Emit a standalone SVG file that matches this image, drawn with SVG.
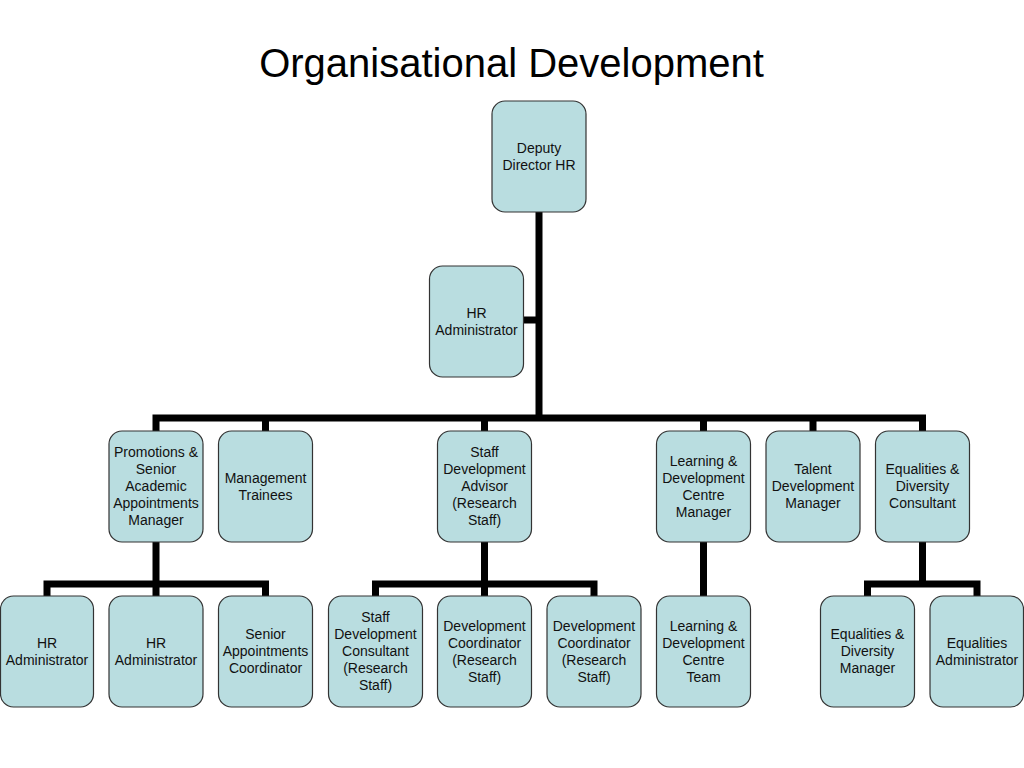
<svg xmlns="http://www.w3.org/2000/svg" width="1024" height="768" viewBox="0 0 1024 768">
<style>
.box{fill:#B9DDE0;stroke:#333;stroke-width:1.2}
.lbl{font-family:"Liberation Sans",Arial,sans-serif;font-size:14px;fill:#111;text-anchor:middle}
.title{font-family:"Liberation Sans",Arial,sans-serif;font-size:40px;fill:#000;text-anchor:middle}
.con{fill:none;stroke:#000;stroke-width:7;stroke-linejoin:miter;stroke-linecap:butt}
</style>
<rect width="1024" height="768" fill="#fff"/>
<text class="title" x="511.5" y="77">Organisational Development</text>
<g id="connectors">
<path class="con" d="M539,212 V421"/>
<path class="con" d="M524,320 H539"/>
<path class="con" d="M156,431 V418 H922.5 V431"/>
<path class="con" d="M265.5,418 V431 M484.5,418 V431 M703.5,418 V431 M813,418 V431"/>
<path class="con" d="M156,542 V584"/>
<path class="con" d="M47,596 V584 H265.5 V596 M156,584 V596"/>
<path class="con" d="M484.5,542 V584"/>
<path class="con" d="M375.5,596 V584 H594 V596 M484.5,584 V596"/>
<path class="con" d="M703.5,542 V596"/>
<path class="con" d="M922.5,542 V584"/>
<path class="con" d="M867.5,596 V584 H977 V596"/>
</g>
<g id="n-deputy"><rect class="box" x="492" y="101" width="94" height="111" rx="13"/><text class="lbl"><tspan x="539" y="153">Deputy</tspan><tspan x="539" y="170">Director HR</tspan></text></g>
<g id="n-hradmin-top"><rect class="box" x="429.5" y="266" width="94" height="111" rx="13"/><text class="lbl"><tspan x="476.5" y="318">HR</tspan><tspan x="476.5" y="335">Administrator</tspan></text></g>

<g id="n-promotions"><rect class="box" x="109" y="431" width="94" height="111" rx="13"/><text class="lbl"><tspan x="156" y="457">Promotions &amp;</tspan><tspan x="156" y="474">Senior</tspan><tspan x="156" y="491">Academic</tspan><tspan x="156" y="508">Appointments</tspan><tspan x="156" y="525">Manager</tspan></text></g>
<g id="n-mgmt"><rect class="box" x="218.5" y="431" width="94" height="111" rx="13"/><text class="lbl"><tspan x="265.5" y="483">Management</tspan><tspan x="265.5" y="500">Trainees</tspan></text></g>
<g id="n-sda"><rect class="box" x="437.5" y="431" width="94" height="111" rx="13"/><text class="lbl"><tspan x="484.5" y="457">Staff</tspan><tspan x="484.5" y="474">Development</tspan><tspan x="484.5" y="491">Advisor</tspan><tspan x="484.5" y="508">(Research</tspan><tspan x="484.5" y="525">Staff)</tspan></text></g>
<g id="n-ldcm"><rect class="box" x="656.5" y="431" width="94" height="111" rx="13"/><text class="lbl"><tspan x="703.5" y="466">Learning &amp;</tspan><tspan x="703.5" y="483">Development</tspan><tspan x="703.5" y="500">Centre</tspan><tspan x="703.5" y="517">Manager</tspan></text></g>
<g id="n-talent"><rect class="box" x="766" y="431" width="94" height="111" rx="13"/><text class="lbl"><tspan x="813" y="474">Talent</tspan><tspan x="813" y="491">Development</tspan><tspan x="813" y="508">Manager</tspan></text></g>
<g id="n-edc"><rect class="box" x="875.5" y="431" width="94" height="111" rx="13"/><text class="lbl"><tspan x="922.5" y="474">Equalities &amp;</tspan><tspan x="922.5" y="491">Diversity</tspan><tspan x="922.5" y="508">Consultant</tspan></text></g>

<g id="n-hradmin1"><rect class="box" x="0.5" y="596" width="93" height="111" rx="13"/><text class="lbl"><tspan x="47" y="648">HR</tspan><tspan x="47" y="665">Administrator</tspan></text></g>
<g id="n-hradmin2"><rect class="box" x="109" y="596" width="94" height="111" rx="13"/><text class="lbl"><tspan x="156" y="648">HR</tspan><tspan x="156" y="665">Administrator</tspan></text></g>
<g id="n-sac"><rect class="box" x="218.5" y="596" width="94" height="111" rx="13"/><text class="lbl"><tspan x="265.5" y="639">Senior</tspan><tspan x="265.5" y="656">Appointments</tspan><tspan x="265.5" y="673">Coordinator</tspan></text></g>
<g id="n-sdc"><rect class="box" x="328.5" y="596" width="94" height="111" rx="13"/><text class="lbl"><tspan x="375.5" y="622">Staff</tspan><tspan x="375.5" y="639">Development</tspan><tspan x="375.5" y="656">Consultant</tspan><tspan x="375.5" y="673">(Research</tspan><tspan x="375.5" y="690">Staff)</tspan></text></g>
<g id="n-dc1"><rect class="box" x="437.5" y="596" width="94" height="111" rx="13"/><text class="lbl"><tspan x="484.5" y="631">Development</tspan><tspan x="484.5" y="648">Coordinator</tspan><tspan x="484.5" y="665">(Research</tspan><tspan x="484.5" y="682">Staff)</tspan></text></g>
<g id="n-dc2"><rect class="box" x="547" y="596" width="94" height="111" rx="13"/><text class="lbl"><tspan x="594" y="631">Development</tspan><tspan x="594" y="648">Coordinator</tspan><tspan x="594" y="665">(Research</tspan><tspan x="594" y="682">Staff)</tspan></text></g>
<g id="n-ldct"><rect class="box" x="656.5" y="596" width="94" height="111" rx="13"/><text class="lbl"><tspan x="703.5" y="631">Learning &amp;</tspan><tspan x="703.5" y="648">Development</tspan><tspan x="703.5" y="665">Centre</tspan><tspan x="703.5" y="682">Team</tspan></text></g>
<g id="n-edm"><rect class="box" x="820.5" y="596" width="94" height="111" rx="13"/><text class="lbl"><tspan x="867.5" y="639">Equalities &amp;</tspan><tspan x="867.5" y="656">Diversity</tspan><tspan x="867.5" y="673">Manager</tspan></text></g>
<g id="n-eqadmin"><rect class="box" x="930" y="596" width="93.5" height="111" rx="13"/><text class="lbl"><tspan x="977" y="648">Equalities</tspan><tspan x="977" y="665">Administrator</tspan></text></g>
</svg>
